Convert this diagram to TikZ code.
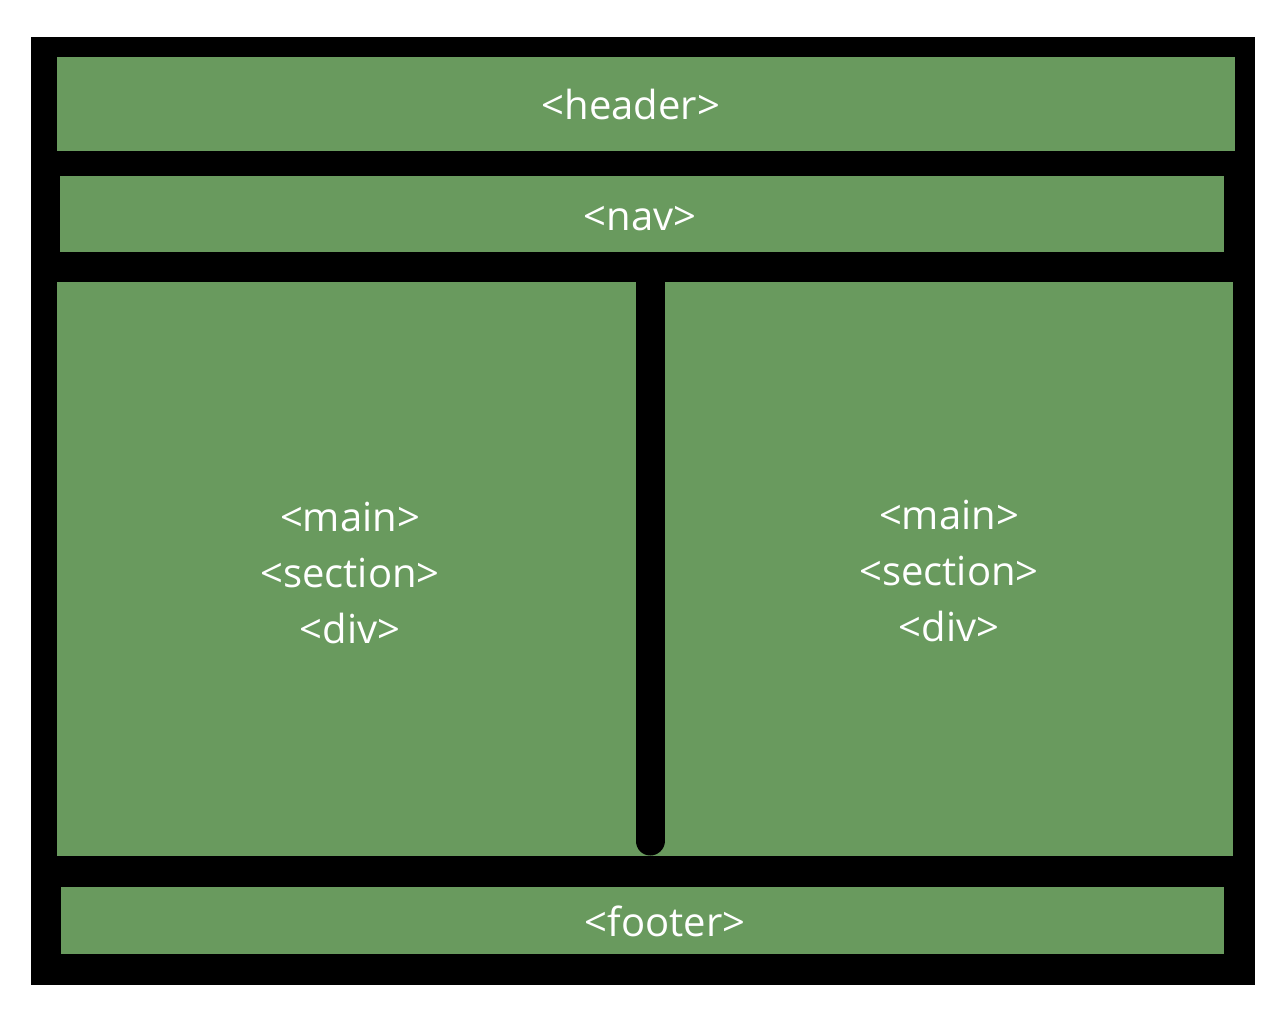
\documentclass[tikz,border=0pt]{standalone}
\usepackage{fontspec}
\setmainfont{Open Sans}
\definecolor{boxgreen}{RGB}{105,154,94}
\begin{document}
\begin{tikzpicture}[x=1pt, y=-1pt, every node/.style={text=white,font=\fontsize{40}{56}\selectfont,align=center,inner sep=0pt}]
			\useasboundingbox (0,0) rectangle (1280,1024);
			\fill[black] (31,37) rectangle (1255,985);
			\fill[boxgreen] (57,57) rectangle (1235,151);
			\fill[boxgreen] (60,176) rectangle (1224,252);
			\fill[boxgreen] (57,282) rectangle (1233,856);
			\fill[boxgreen] (61,887) rectangle (1224,954);
			\coordinate (top) at (650,268);
			\coordinate (bottom) at (650,841);
			\draw[line width=29pt, line cap=round] (top) -- (bottom);
			\node (header) at (631,105) {<header>};
			\node (nav) at (640,219) {<nav>};
			\node (left) at (350,573) {<main>\\<section>\\<div>};
			\node (right) at (949,571) {<main>\\<section>\\<div>};
			\node (footer) at (665,921) {<footer>};
		\end{tikzpicture}
\end{document}
